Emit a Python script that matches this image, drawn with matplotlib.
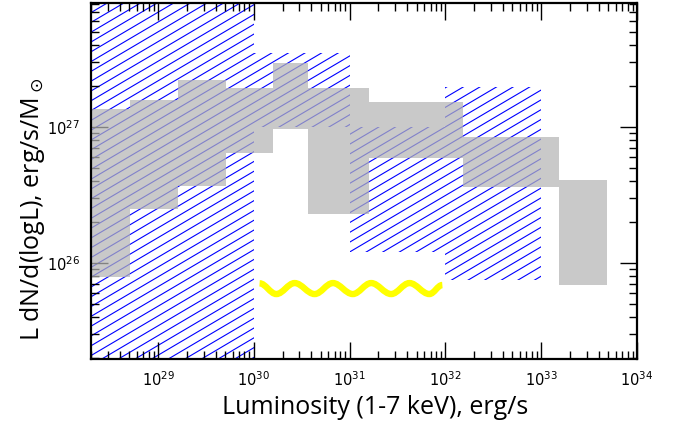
import numpy as np
import matplotlib
matplotlib.use('Agg')
import matplotlib.pyplot as plt
from matplotlib.collections import LineCollection
from matplotlib.path import Path
from matplotlib.patches import PathPatch

# grey boxes (bin edges in luminosity, lower/upper values)
bin_left = [1.6e28, 5.1e28, 1.6e29, 5.1e29, 1.58e30, 3.7e30, 1.58e31, 1.54e32, 1.54e33]
bin_right = [5.1e28, 1.6e29, 5.1e29, 1.58e30, 3.7e30, 1.58e31, 1.54e32, 1.54e33, 4.9e33]
box_low = [7.9e25, 2.5e26, 3.7e26, 6.5e26, 9.7e26, 2.3e26, 5.9e26, 3.6e26, 6.9e25]
box_high = [1.36e27, 1.58e27, 2.22e27, 1.94e27, 2.96e27, 1.94e27, 1.53e27, 8.4e26, 4.1e26]

# hatched (blue) band
hatch_left = [1e28, 1e30, 1e31, 1e32]
hatch_right = [1e30, 1e31, 1e32, 1e33]
hatch_low = [1e25, 1.0e27, 1.2e26, 7.5e25]
hatch_high = [1e28, 3.5e27, 1.0e27, 1.97e27]

# yellow wavy line, extrema
wave_x = [1.15e30, 1.72e30, 2.67e30, 4.32e30, 6.70e30, 1.08e31, 1.68e31,
          2.72e31, 4.22e31, 6.81e31, 9.3e31]
wave_y = [7.1e25, 5.92e25, 7.13e25, 5.92e25, 7.13e25, 5.92e25, 7.13e25,
          5.92e25, 7.13e25, 5.92e25, 6.9e25]

xlim = (2e28, 1e34)
ylim = (1.97e25, 8.2e27)

plt.rcParams['font.family'] = ['Open Sans', 'DejaVu Sans']

fig = plt.figure(figsize=(6.75, 4.29), dpi=100)
ax = fig.add_axes([0.1348, 0.1632, 0.8089, 0.8298])
ax.set_xscale('log')
ax.set_yscale('log')
ax.set_xlim(*xlim)
ax.set_ylim(*ylim)

# hatching: thin blue lines at ~30 deg, clipped to each block
slope = 0.59 * 546 / 356
step = 9.8 / 356
offs = np.arange(-2.0, 1.2, step)
segs = [[(0, o), (1, o + slope)] for o in offs]
for x0, x1, y0, y1 in zip(hatch_left, hatch_right, hatch_low, hatch_high):
    x0, x1 = max(x0, xlim[0]), min(x1, xlim[1])
    y0, y1 = max(y0, ylim[0]), min(y1, ylim[1])
    clip = ax.bar(x0, y1 - y0, width=x1 - x0, bottom=y0, align='edge',
                  fill=False, linewidth=0)[0]
    lc = LineCollection(segs, colors='#0000ff', linewidths=0.8,
                        transform=ax.transAxes, zorder=1)
    ax.add_collection(lc)
    lc.set_clip_path(clip)

# grey boxes on top, semi transparent
ax.bar(bin_left, np.array(box_high) - np.array(box_low),
       width=np.array(bin_right) - np.array(bin_left), bottom=box_low,
       align='edge', color='#b4b4b4', alpha=0.72, linewidth=0, zorder=2)

# wavy line as bezier segments between the extrema
lx = np.log10(wave_x)
verts = [(wave_x[0], wave_y[0])]
codes = [Path.MOVETO]
for i in range(len(wave_x) - 1):
    d = lx[i + 1] - lx[i]
    verts += [(10 ** (lx[i] + 0.364 * d), wave_y[i]),
              (10 ** (lx[i + 1] - 0.364 * d), wave_y[i + 1]),
              (wave_x[i + 1], wave_y[i + 1])]
    codes += [Path.CURVE4] * 3
ax.add_patch(PathPatch(Path(verts, codes), fill=False, edgecolor='#ffff00',
                       linewidth=4.6, capstyle='butt', zorder=3))

for s in ax.spines.values():
    s.set_linewidth(1.6)
ax.tick_params(which='both', direction='in', top=True, right=True, width=1,
               labelsize=10.5, labelfontfamily='DejaVu Sans')
ax.tick_params(which='major', length=12, pad=8)
ax.tick_params(which='minor', length=6)

ax.set_xlabel('Luminosity (1-7 keV), erg/s', fontsize=18)
ax.xaxis.set_label_coords(0.52, -0.1)
ax.set_ylabel(r'L dN/d(logL), erg/s/M$_\odot$', fontsize=18)
ax.yaxis.set_label_coords(-0.08, 0.42)

plt.savefig('out.png', dpi=100)
